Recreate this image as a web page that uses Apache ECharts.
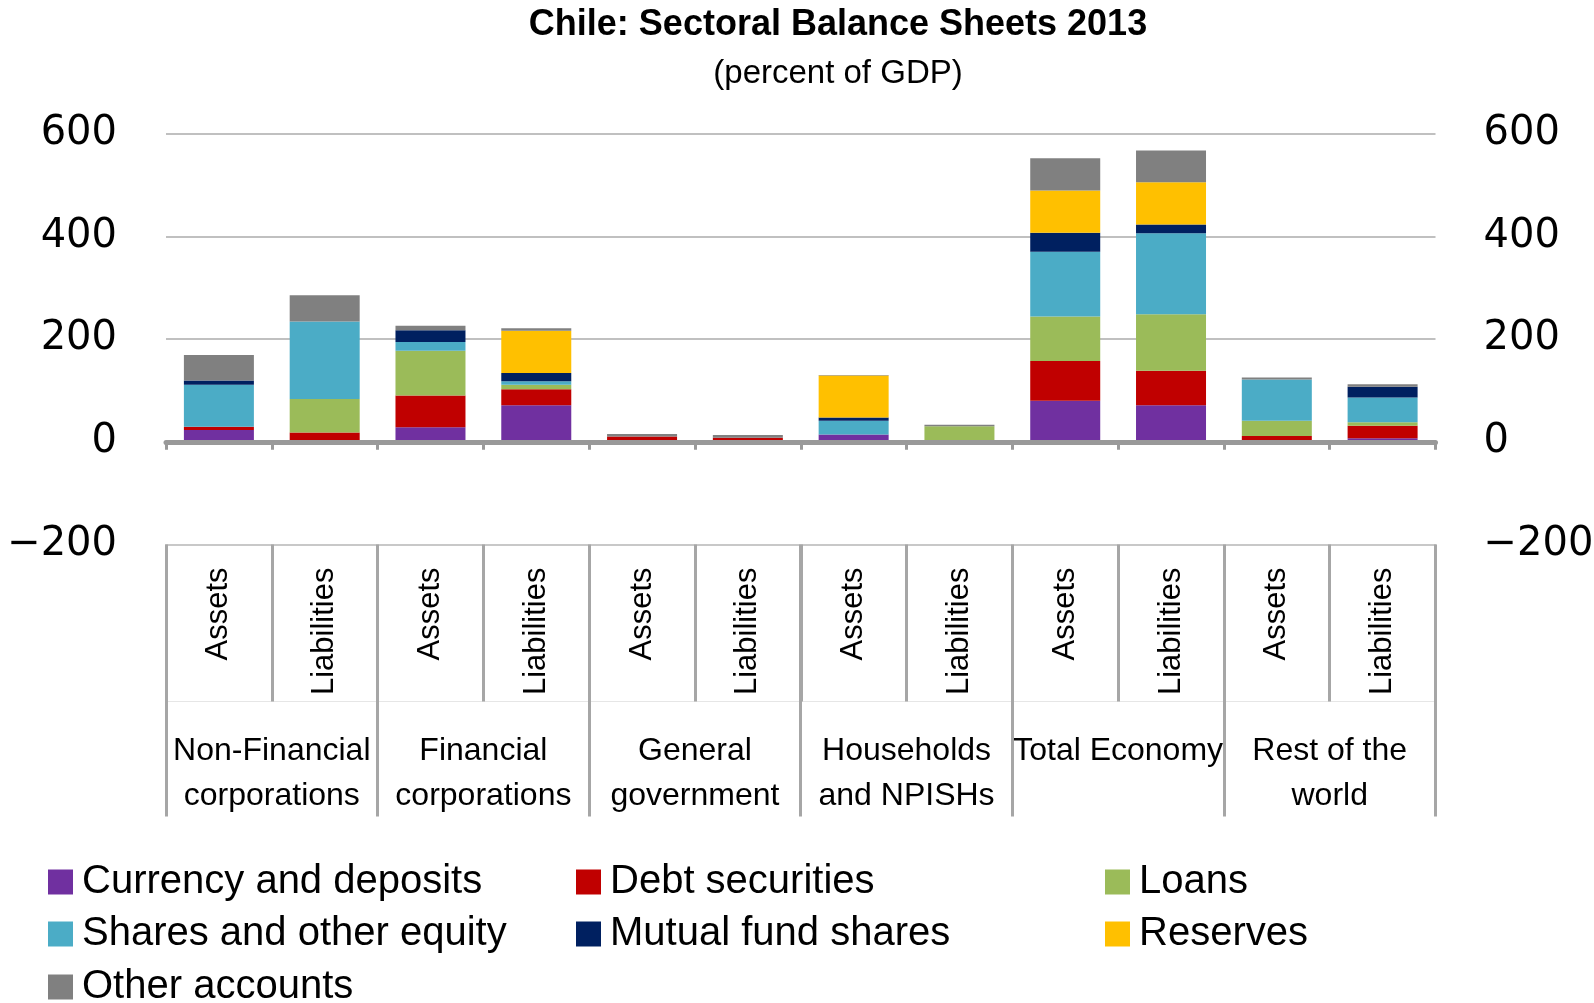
<!DOCTYPE html>
<html>
<head>
<meta charset="utf-8">
<script src="https://cdn.jsdelivr.net/npm/echarts@6/dist/echarts.min.js"></script>
<style>
html,body{margin:0;padding:0;background:#fff;}
#chart{width:1594px;height:1003px;}
</style>
</head>
<body>
<div id="chart"></div>
<script>
// ---- data ----
const categories = ['Assets','Liabilities','Assets','Liabilities','Assets','Liabilities',
                    'Assets','Liabilities','Assets','Liabilities','Assets','Liabilities'];
const groups = ['Non-Financial\ncorporations','Financial\ncorporations','General\ngovernment',
                'Households\nand NPISHs','Total Economy','Rest of the\nworld'];
const yTicks = [-200, 0, 200, 400, 600];

const currencyDeposits = [23, 0, 28, 71, 1, 0, 14, 0, 80, 71, 0, 7];
const debtSecurities   = [6, 18, 62, 31, 9, 8, 0, 0, 77, 67, 11, 24];
const loans            = [0, 65, 87, 9, 0, 0, 0, 30, 87, 110, 30, 7];
const sharesEquity     = [82, 151, 17, 7, 0, 0, 27, 0, 126, 158, 80, 48];
const mutualFund       = [8, 0, 23, 16, 0, 0, 6, 0, 37, 17, 0, 21];
const reserves         = [0, 0, 0, 82, 0, 0, 82, 0, 82, 82, 0, 0];
const otherAccounts    = [50, 51, 9, 5, 5, 5, 1, 3, 63, 62, 4, 5];

const seriesDefs = [
  ['Currency and deposits', currencyDeposits, '#7030A0'],
  ['Debt securities', debtSecurities, '#C00000'],
  ['Loans', loans, '#9BBB59'],
  ['Shares and other equity', sharesEquity, '#4BACC6'],
  ['Mutual fund shares', mutualFund, '#002060'],
  ['Reserves', reserves, '#FFC000'],
  ['Other accounts', otherAccounts, '#808080']
];

const FONT = "'Liberation Sans', Arial, sans-serif";
const NUMFONT = "'DejaVu Sans', Verdana, sans-serif";

const chart = echarts.init(document.getElementById('chart'), null, {renderer:'canvas'});

const legendBase = {
  orient: 'vertical', top: 862, itemGap: 12, itemWidth: 25, itemHeight: 25,
  icon: 'rect', padding: 0, selectedMode: false,
  textStyle: {fontFamily: FONT, fontSize: 40, lineHeight: 40, color: '#000', padding: [0,0,0,4]}
};

const yMin = yTicks[0], yMax = yTicks[yTicks.length-1], yInt = yTicks[1]-yTicks[0];
const fmt = v => String(v).replace('-', '\u2212');

const option = {
  animation: false,
  backgroundColor: '#fff',
  title: [
    {text: 'Chile: Sectoral Balance Sheets 2013', left: 838, top: 6, textAlign: 'center', padding: 0,
     textStyle: {fontFamily: FONT, fontWeight: 'bold', fontSize: 36, lineHeight: 38, color: '#000'}},
    {text: '(percent of GDP)', left: 838, top: 57, textAlign: 'center', padding: 0,
     textStyle: {fontFamily: FONT, fontWeight: 'normal', fontSize: 33, lineHeight: 34, color: '#000'}}
  ],
  legend: [
    Object.assign({}, legendBase, {left: 48, data: ['Currency and deposits','Shares and other equity']}),
    Object.assign({}, legendBase, {left: 48, top: 967, data: ['Other accounts']}),
    Object.assign({}, legendBase, {left: 576, data: ['Debt securities','Mutual fund shares']}),
    Object.assign({}, legendBase, {left: 1105, data: ['Loans','Reserves']})
  ],
  grid: {left: 166, right: 158.5, top: 133.5, bottom: 458.5, containLabel: false, outerBoundsMode: 'none'},
  xAxis: [
    {type: 'category', data: categories, position: 'bottom', z: 5,
     axisLine: {show: true, onZero: true, lineStyle: {color: '#999999', width: 5}},
     axisTick: {show: true, interval: 0, length: 8, lineStyle: {color: '#999999', width: 3}},
     axisLabel: {show: false}, splitLine: {show: false}},
    {type: 'category', data: categories, position: 'bottom',
     axisLine: {show: true, onZero: false, lineStyle: {color: '#c8c8c8', width: 2}},
     axisTick: {show: true, interval: 0, length: 157, lineStyle: {color: '#a6a6a6', width: 3}},
     axisLabel: {show: true, interval: 0, rotate: 90, margin: 23, fontFamily: FONT, fontSize: 31, color: '#000'},
     splitLine: {show: false}},
    {type: 'category', data: groups, position: 'bottom',
     axisLine: {show: false, onZero: false},
     axisTick: {show: true, interval: 0, length: 272, lineStyle: {color: '#a6a6a6', width: 3}},
     axisLabel: {show: true, interval: 0, margin: 184, fontFamily: FONT, fontSize: 32, lineHeight: 45, color: '#000'},
     splitLine: {show: false}},
    {type: 'category', data: groups, position: 'bottom', offset: 157,
     axisLine: {show: true, onZero: false, lineStyle: {color: '#e6e6e6', width: 1}},
     axisTick: {show: false}, axisLabel: {show: false}, splitLine: {show: false}}
  ],
  yAxis: [
    {type: 'value', min: yMin, max: yMax, interval: yInt, position: 'left',
     axisLine: {show: false}, axisTick: {show: false},
     splitLine: {show: true, lineStyle: {color: '#c0c0c0', width: 2}},
     axisLabel: {margin: 49, fontFamily: NUMFONT, fontSize: 40, color: '#000', formatter: fmt}},
    {type: 'value', min: yMin, max: yMax, interval: yInt, position: 'right',
     axisLine: {show: false}, axisTick: {show: false}, splitLine: {show: false},
     axisLabel: {margin: 48, fontFamily: NUMFONT, fontSize: 40, color: '#000', formatter: fmt}}
  ],
  series: seriesDefs.map(([name, data, color]) => ({
    name: name, type: 'bar', stack: 'total', data: data, barWidth: 70,
    xAxisIndex: 0, yAxisIndex: 0,
    itemStyle: {color: color}
  }))
};

chart.setOption(option);
</script>
</body>
</html>
